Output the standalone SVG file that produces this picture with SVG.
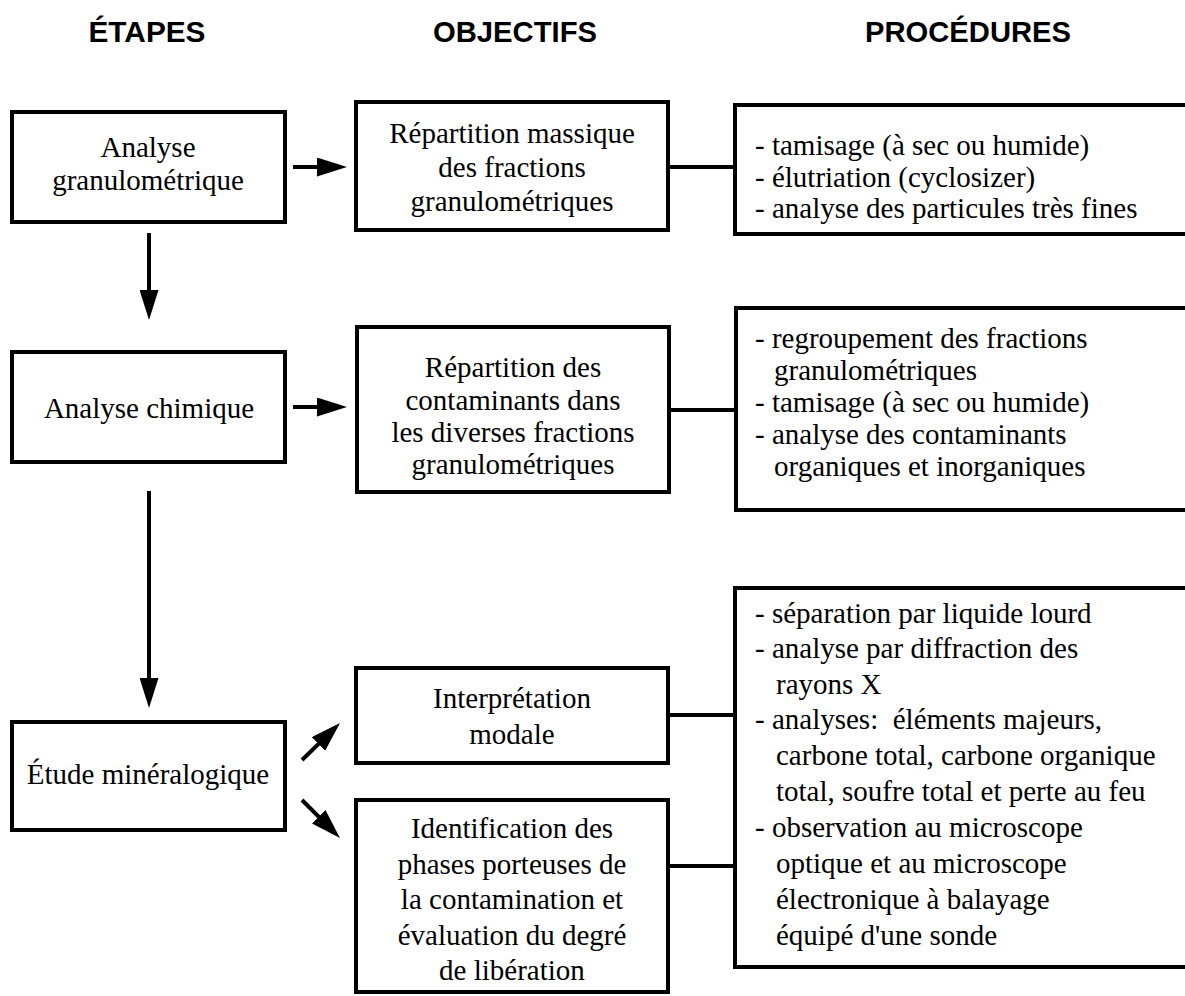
<svg xmlns="http://www.w3.org/2000/svg" width="1185" height="996" viewBox="0 0 1185 996">
<defs>
<style>
.hdr{font-family:"Liberation Sans",Arial,sans-serif;font-weight:bold;font-size:30px;fill:#000}
.t{font-family:"Liberation Serif","Times New Roman",serif;font-size:29px;fill:#000}
.c{text-anchor:middle}
.box{fill:#fff;stroke:#000;stroke-width:4}
.brk{fill:none;stroke:#000;stroke-width:4}
.ln{fill:none;stroke:#000;stroke-width:4}
</style>
<marker id="ah" viewBox="0 0 30 19" refX="22" refY="9.5" markerWidth="30" markerHeight="19" markerUnits="userSpaceOnUse" orient="auto">
<path d="M0,0 L30,9.5 L0,19 Z" fill="#000"/>
</marker>
</defs>
<rect width="1185" height="996" fill="#fff"/>
<g id="headers">
<text class="hdr c" x="147" y="42" textLength="117" lengthAdjust="spacingAndGlyphs">ÉTAPES</text>
<text class="hdr c" x="515" y="42" textLength="164" lengthAdjust="spacingAndGlyphs">OBJECTIFS</text>
<text class="hdr c" x="968" y="42" textLength="206" lengthAdjust="spacingAndGlyphs">PROCÉDURES</text>
</g>
<g id="connectors">
<line class="ln" x1="149" y1="233" x2="149" y2="312" marker-end="url(#ah)"/>
<line class="ln" x1="149" y1="491" x2="149" y2="700" marker-end="url(#ah)"/>
<line class="ln" x1="293" y1="167" x2="339" y2="167" marker-end="url(#ah)"/>
<line class="ln" x1="293" y1="407" x2="339" y2="407" marker-end="url(#ah)"/>
<line class="ln" x1="302" y1="760" x2="334.3" y2="728.6" marker-end="url(#ah)"/>
<line class="ln" x1="302" y1="800" x2="334.3" y2="832.3" marker-end="url(#ah)"/>
<line class="ln" x1="668" y1="167" x2="735" y2="167"/>
<line class="ln" x1="669" y1="410" x2="736" y2="410"/>
<line class="ln" x1="668" y1="715" x2="735" y2="715"/>
<line class="ln" x1="668" y1="866" x2="735" y2="866"/>
</g>
<g id="n-analyse-granulo">
<rect class="box" x="12" y="112" width="273" height="110"/>
<text class="t c" x="148" y="157">Analyse</text>
<text class="t c" x="148" y="190">granulométrique</text>
</g>
<g id="n-analyse-chimique">
<rect class="box" x="12" y="352" width="273" height="110"/>
<text class="t c" x="149" y="418">Analyse chimique</text>
</g>
<g id="n-etude-mineralogique">
<rect class="box" x="12" y="722" width="273" height="108"/>
<text class="t c" x="148" y="784">Étude minéralogique</text>
</g>
<g id="n-repartition-massique">
<rect class="box" x="356" y="102" width="312" height="128"/>
<text class="t c" x="512" y="143">Répartition massique</text>
<text class="t c" x="512" y="177">des fractions</text>
<text class="t c" x="512" y="211">granulométriques</text>
</g>
<g id="n-repartition-contaminants">
<rect class="box" x="357" y="327" width="312" height="165"/>
<text class="t c" x="513" y="377">Répartition des</text>
<text class="t c" x="513" y="410">contaminants dans</text>
<text class="t c" x="513" y="442">les diverses fractions</text>
<text class="t c" x="513" y="474">granulométriques</text>
</g>
<g id="n-interpretation-modale">
<rect class="box" x="356" y="668" width="312" height="95"/>
<text class="t c" x="512" y="708">Interprétation</text>
<text class="t c" x="512" y="744">modale</text>
</g>
<g id="n-identification">
<rect class="box" x="356" y="800" width="312" height="192"/>
<text class="t c" x="512" y="838">Identification des</text>
<text class="t c" x="512" y="874">phases porteuses de</text>
<text class="t c" x="512" y="909">la contamination et</text>
<text class="t c" x="512" y="945">évaluation du degré</text>
<text class="t c" x="512" y="980">de libération</text>
</g>
<g id="n-proc-granulo">
<path class="brk" d="M1187,105 H735 V234 H1187"/>
<text class="t" x="755" y="155">- tamisage (à sec ou humide)</text>
<text class="t" x="755" y="187">- élutriation (cyclosizer)</text>
<text class="t" x="755" y="218">- analyse des particules très fines</text>
</g>
<g id="n-proc-chimique">
<path class="brk" d="M1187,308 H736 V510 H1187"/>
<text class="t" x="755" y="348">- regroupement des fractions</text>
<text class="t" x="774" y="380">granulométriques</text>
<text class="t" x="755" y="412">- tamisage (à sec ou humide)</text>
<text class="t" x="755" y="444">- analyse des contaminants</text>
<text class="t" x="774" y="476">organiques et inorganiques</text>
</g>
<g id="n-proc-mineralo">
<path class="brk" d="M1187,588 H735 V967 H1187"/>
<text class="t" x="755" y="623">- séparation par liquide lourd</text>
<text class="t" x="755" y="658">- analyse par diffraction des</text>
<text class="t" x="776" y="694">rayons X</text>
<text class="t" x="755" y="729" xml:space="preserve">- analyses:  éléments majeurs,</text>
<text class="t" x="776" y="765">carbone total, carbone organique</text>
<text class="t" x="776" y="801">total, soufre total et perte au feu</text>
<text class="t" x="755" y="837">- observation au microscope</text>
<text class="t" x="776" y="873">optique et au microscope</text>
<text class="t" x="776" y="909">électronique à balayage</text>
<text class="t" x="776" y="945">équipé d'une sonde</text>
</g>
</svg>
